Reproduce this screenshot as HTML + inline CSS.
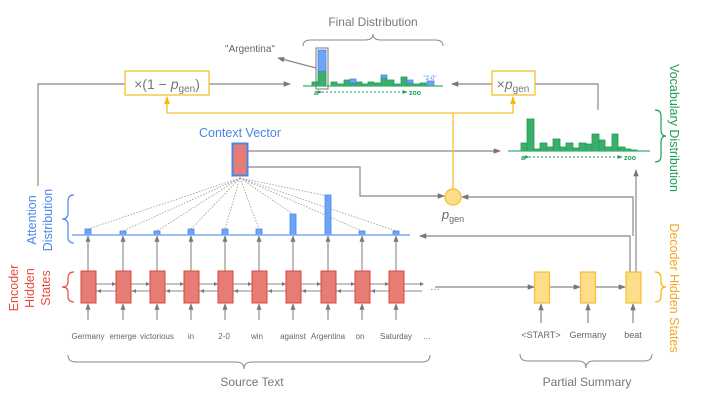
<!DOCTYPE html>
<html><head><meta charset="utf-8"><style>
html,body{margin:0;padding:0;background:#fff}
svg{display:block}
text{font-family:"Liberation Sans",sans-serif}
</style></head><body>
<svg width="705" height="401" viewBox="0 0 705 401" xmlns="http://www.w3.org/2000/svg">
<defs>
<marker id="a" viewBox="0 0 8 8" refX="7" refY="4" markerWidth="6" markerHeight="6" orient="auto"><path d="M0,1 L8,4 L0,7z" fill="#777"/></marker>
<marker id="y" viewBox="0 0 8 8" refX="7" refY="4" markerWidth="6" markerHeight="6" orient="auto"><path d="M0,1 L8,4 L0,7z" fill="#f6b800"/></marker>
<marker id="g" viewBox="0 0 8 8" refX="7" refY="4" markerWidth="5" markerHeight="5" orient="auto"><path d="M0,1 L8,4 L0,7z" fill="#1e9e55"/></marker>
</defs>
<g stroke="#888" stroke-width="1.2" fill="none">
<polyline points="38,186 38,84 125,84"/>
<line x1="209" y1="84" x2="290" y2="84" marker-end="url(#a)"/>
<line x1="492" y1="84" x2="452" y2="84" marker-end="url(#a)"/>
<polyline points="535,84 598,84 598,110"/>
<line x1="248" y1="151" x2="500" y2="151" marker-end="url(#a)"/>
<polyline points="248,167 360,167 360,196 444,196" marker-end="url(#a)"/>
<polyline points="630,272 630,236 420,236" marker-end="url(#a)"/>
<line x1="636" y1="272" x2="636" y2="170" marker-end="url(#a)"/>
<polyline points="633,236 633,197 462,197" marker-end="url(#a)"/>
<line x1="316" y1="68" x2="278" y2="58" marker-end="url(#a)"/>
<line x1="435" y1="287" x2="534" y2="287" marker-end="url(#a)"/>
<line x1="550" y1="287" x2="580" y2="287" marker-end="url(#a)"/>
<line x1="596" y1="287" x2="625" y2="287" marker-end="url(#a)"/>
<line x1="541" y1="323" x2="541" y2="304" marker-end="url(#a)"/>
<line x1="588" y1="323" x2="588" y2="304" marker-end="url(#a)"/>
<line x1="633" y1="323" x2="633" y2="304" marker-end="url(#a)"/>
</g>
<g stroke="#f6c030" stroke-width="1.3" fill="none">
<polyline points="453,189 453,113 167,113 167,97" marker-end="url(#y)"/>
<polyline points="453,113 513,113 513,97" marker-end="url(#y)"/>
</g>
<circle cx="453" cy="197" r="8" fill="#fbdd8a" stroke="#f6c030" stroke-width="1.3"/>
<text x="453" y="219" font-family="Liberation Serif" font-style="italic" font-size="13" fill="#666" text-anchor="middle">p<tspan font-style="normal" font-size="9" dy="3">gen</tspan></text>
<rect x="125" y="71" width="84" height="24" fill="#fff" stroke="#f6c030" stroke-width="1.3"/>
<text x="167" y="89" font-family="Liberation Serif" font-size="14" fill="#777" text-anchor="middle">×(1 − <tspan font-style="italic">p</tspan><tspan font-size="10" dy="3">gen</tspan><tspan dy="-3">)</tspan></text>
<rect x="492" y="71" width="43" height="24" fill="#fff" stroke="#f6c030" stroke-width="1.3"/>
<text x="513" y="89" font-family="Liberation Serif" font-size="14" fill="#777" text-anchor="middle">×<tspan font-style="italic">p</tspan><tspan font-size="10" dy="3">gen</tspan></text>

<text x="373" y="26" font-size="12" fill="#777" text-anchor="middle">Final Distribution</text>
<path d="M303,46 q0,-6 8,-6 h54 q8,0 8,-6 q0,6 8,6 h54 q8,0 8,6" stroke="#888" fill="none"/>
<text x="250" y="52" font-size="10" fill="#666" text-anchor="middle">"Argentina"</text>
<g fill="#3aae6a" stroke="#1e9e55" stroke-width="0.8">
<rect x="312" y="82" width="6" height="4"/><rect x="318" y="71" width="8" height="15"/>
<rect x="331" y="82" width="6" height="4"/><rect x="338" y="84" width="6" height="2"/>
<rect x="344" y="80" width="6" height="6"/><rect x="350" y="83" width="6" height="3"/>
<rect x="356" y="82" width="6" height="4"/><rect x="362" y="84" width="6" height="2"/>
<rect x="368" y="82" width="6" height="4"/><rect x="375" y="83" width="6" height="3"/>
<rect x="381" y="78" width="6" height="8"/><rect x="388" y="80" width="6" height="6"/>
<rect x="394" y="84" width="6" height="2"/><rect x="401" y="77" width="6" height="9"/>
<rect x="407" y="83" width="6" height="3"/><rect x="414" y="84" width="6" height="2"/>
<rect x="420" y="83" width="6" height="3"/>
</g>
<g fill="#6fa3f5" stroke="#4a86e8" stroke-width="0.8">
<rect x="318" y="50" width="8" height="21"/><rect x="350" y="79" width="6" height="4"/>
<rect x="381" y="75" width="6" height="3"/><rect x="407" y="80" width="6" height="3"/>
<rect x="427" y="81" width="7" height="5"/>
</g>
<rect x="316" y="48" width="12" height="41" fill="none" stroke="#777" stroke-width="1"/>
<line x1="303" y1="86" x2="443" y2="86" stroke="#3aae6a" stroke-width="1.3"/>
<text x="430" y="80" font-size="6" fill="#4a86e8" text-anchor="middle">"2-0"</text>
<text x="314" y="95" font-size="7" font-weight="bold" fill="#1e9e55">a</text>
<line x1="322" y1="92" x2="407" y2="92" stroke="#1e9e55" stroke-dasharray="2,2" marker-start="url(#g)" marker-end="url(#g)"/>
<text x="409" y="95" font-size="7" font-weight="bold" fill="#1e9e55">zoo</text>

<g fill="#3aae6a" stroke="#1e9e55" stroke-width="0.8">
<rect x="521" y="143" width="6" height="8"/><rect x="527" y="119" width="7" height="32"/>
<rect x="534" y="149" width="6" height="2"/><rect x="540" y="143" width="7" height="8"/>
<rect x="547" y="147" width="6" height="4"/><rect x="553" y="139" width="7" height="12"/>
<rect x="560" y="147" width="6" height="4"/><rect x="566" y="143" width="7" height="8"/>
<rect x="573" y="148" width="6" height="3"/><rect x="579" y="143" width="7" height="8"/>
<rect x="586" y="144" width="6" height="7"/><rect x="592" y="134" width="7" height="17"/>
<rect x="599" y="140" width="6" height="11"/><rect x="605" y="147" width="7" height="4"/>
<rect x="612" y="134" width="6" height="17"/><rect x="618" y="147" width="7" height="4"/>
<rect x="625" y="149" width="6" height="2"/><rect x="631" y="150" width="6" height="1"/>
</g>
<line x1="508" y1="151" x2="650" y2="151" stroke="#3aae6a" stroke-width="1.3"/>
<text x="521" y="160" font-size="7" font-weight="bold" fill="#1e9e55">a</text>
<line x1="529" y1="157" x2="622" y2="157" stroke="#1e9e55" stroke-dasharray="2,2" marker-start="url(#g)" marker-end="url(#g)"/>
<text x="624" y="160" font-size="7" font-weight="bold" fill="#1e9e55">zoo</text>
<path d="M655,110 q6,0 6,6 v14 q0,6 5,6 q-5,0 -5,6 v14 q0,6 -6,6" stroke="#1e9e55" fill="none" stroke-width="1.2"/>
<text transform="translate(670,128) rotate(90)" font-size="12.5" fill="#1e9e55" text-anchor="middle">Vocabulary Distribution</text>
<path d="M655,272 q6,0 6,6 v4 q0,5 5,5 q-5,0 -5,5 v4 q0,6 -6,6" stroke="#f6b800" fill="none" stroke-width="1.2"/>
<text transform="translate(670,288) rotate(90)" font-size="12.5" fill="#f6a623" text-anchor="middle">Decoder Hidden States</text>

<text x="240" y="137" font-size="12.5" fill="#4a86e8" text-anchor="middle">Context Vector</text>
<rect x="232.5" y="143.5" width="15" height="32" fill="#e67c73" stroke="#4a86e8" stroke-width="2"/>

<g stroke="#999" stroke-width="0.8" stroke-dasharray="1.5,1.5" fill="none">
<line x1="240" y1="178" x2="88" y2="229"/><line x1="240" y1="178" x2="123" y2="231"/>
<line x1="240" y1="178" x2="157" y2="231"/><line x1="240" y1="178" x2="191" y2="229"/>
<line x1="240" y1="178" x2="225" y2="229"/><line x1="240" y1="178" x2="259" y2="229"/>
<line x1="240" y1="178" x2="293" y2="214"/><line x1="240" y1="178" x2="328" y2="196"/>
<line x1="240" y1="178" x2="362" y2="231"/><line x1="240" y1="178" x2="396" y2="231"/>
</g>

<g fill="#6fa3f5" stroke="#4a86e8" stroke-width="0.8">
<rect x="85" y="229" width="6" height="6"/><rect x="120" y="231" width="6" height="4"/>
<rect x="154" y="231" width="6" height="4"/><rect x="188" y="229" width="6" height="6"/>
<rect x="222" y="229" width="6" height="6"/><rect x="256" y="229" width="6" height="6"/>
<rect x="290" y="214" width="6" height="21"/><rect x="325" y="195" width="6" height="40"/>
<rect x="359" y="231" width="6" height="4"/><rect x="393" y="231" width="6" height="4"/>
</g>
<line x1="72" y1="235" x2="410" y2="235" stroke="#7baaf7" stroke-width="1.5"/>
<path d="M74,195 q-6,0 -6,6 v12 q0,6 -6,6 q6,0 6,6 v12 q0,6 6,6" stroke="#4a86e8" fill="none" stroke-width="1.2"/>
<text transform="translate(36,220) rotate(-90)" font-size="12.5" fill="#4a86e8" text-anchor="middle">Attention</text>
<text transform="translate(52,220) rotate(-90)" font-size="12.5" fill="#4a86e8" text-anchor="middle">Distribution</text>
<path d="M74,272 q-6,0 -6,6 v4 q0,5 -6,5 q6,0 6,5 v4 q0,6 6,6" stroke="#e84b3c" fill="none" stroke-width="1.2"/>
<text transform="translate(18,288) rotate(-90)" font-size="12.5" fill="#e84b3c" text-anchor="middle">Encoder</text>
<text transform="translate(34,288) rotate(-90)" font-size="12.5" fill="#e84b3c" text-anchor="middle">Hidden</text>
<text transform="translate(50,288) rotate(-90)" font-size="12.5" fill="#e84b3c" text-anchor="middle">States</text>

<g stroke="#888" stroke-width="1.1" fill="none">
<line x1="88" y1="271" x2="88" y2="236" marker-end="url(#a)"/><line x1="123" y1="271" x2="123" y2="236" marker-end="url(#a)"/>
<line x1="157" y1="271" x2="157" y2="236" marker-end="url(#a)"/><line x1="191" y1="271" x2="191" y2="236" marker-end="url(#a)"/>
<line x1="225" y1="271" x2="225" y2="236" marker-end="url(#a)"/><line x1="259" y1="271" x2="259" y2="236" marker-end="url(#a)"/>
<line x1="293" y1="271" x2="293" y2="236" marker-end="url(#a)"/><line x1="328" y1="271" x2="328" y2="236" marker-end="url(#a)"/>
<line x1="362" y1="271" x2="362" y2="236" marker-end="url(#a)"/><line x1="396" y1="271" x2="396" y2="236" marker-end="url(#a)"/>
<line x1="88" y1="320" x2="88" y2="304" marker-end="url(#a)"/><line x1="123" y1="320" x2="123" y2="304" marker-end="url(#a)"/>
<line x1="157" y1="320" x2="157" y2="304" marker-end="url(#a)"/><line x1="191" y1="320" x2="191" y2="304" marker-end="url(#a)"/>
<line x1="225" y1="320" x2="225" y2="304" marker-end="url(#a)"/><line x1="259" y1="320" x2="259" y2="304" marker-end="url(#a)"/>
<line x1="293" y1="320" x2="293" y2="304" marker-end="url(#a)"/><line x1="328" y1="320" x2="328" y2="304" marker-end="url(#a)"/>
<line x1="362" y1="320" x2="362" y2="304" marker-end="url(#a)"/><line x1="396" y1="320" x2="396" y2="304" marker-end="url(#a)"/>
<line x1="96" y1="284" x2="422" y2="284"/>
<line x1="96" y1="291" x2="422" y2="291"/>
</g>
<g fill="#e67c73" stroke="#d9473a" stroke-width="1">
<rect x="81" y="271" width="15" height="32"/><rect x="116" y="271" width="15" height="32"/>
<rect x="150" y="271" width="15" height="32"/><rect x="184" y="271" width="15" height="32"/>
<rect x="218" y="271" width="15" height="32"/><rect x="252" y="271" width="15" height="32"/>
<rect x="286" y="271" width="15" height="32"/><rect x="321" y="271" width="15" height="32"/>
<rect x="355" y="271" width="15" height="32"/><rect x="389" y="271" width="15" height="32"/>
</g>
<g fill="#777"><path d="M112,282 l4,2 l-4,2z M146,282 l4,2 l-4,2z M180,282 l4,2 l-4,2z M214,282 l4,2 l-4,2z M248,282 l4,2 l-4,2z M282,282 l4,2 l-4,2z M317,282 l4,2 l-4,2z M351,282 l4,2 l-4,2z M385,282 l4,2 l-4,2z M420,282 l4,2 l-4,2z"/>
<path d="M97,291 l4,-2 v4z M132,291 l4,-2 v4z M166,291 l4,-2 v4z M200,291 l4,-2 v4z M234,291 l4,-2 v4z M268,291 l4,-2 v4z M302,291 l4,-2 v4z M337,291 l4,-2 v4z M371,291 l4,-2 v4z"/></g>
<text x="430" y="290" font-size="10" fill="#777">…</text>

<g fill="#fbdd8a" stroke="#f6c030" stroke-width="1.2">
<rect x="534.5" y="272" width="15" height="31"/><rect x="580.5" y="272" width="15" height="31"/><rect x="626" y="272" width="15" height="31"/>
</g>

<g font-size="8" fill="#666" text-anchor="middle">
<text x="88" y="339">Germany</text>
<text x="123" y="339">emerge</text><text x="157" y="339">victorious</text>
<text x="191" y="339">in</text><text x="224" y="339">2-0</text><text x="257" y="339">win</text>
<text x="293" y="339">against</text><text x="328" y="339">Argentina</text><text x="360" y="339">on</text>
<text x="396" y="339">Saturday</text><text x="427" y="339">…</text>
</g>
<g font-size="9" fill="#666" text-anchor="middle">
<text x="541" y="338">&lt;START&gt;</text><text x="588" y="338">Germany</text><text x="633" y="338">beat</text>
</g>
<path d="M68,355 q0,7 8,7 h160 q8,0 8,7 q0,-7 8,-7 h170 q8,0 8,-7" stroke="#888" fill="none"/>
<text x="252" y="386" font-size="12" fill="#777" text-anchor="middle">Source Text</text>
<path d="M520,354 q0,7 8,7 h50 q8,0 8,7 q0,-7 8,-7 h50 q8,0 8,-7" stroke="#888" fill="none"/>
<text x="587" y="386" font-size="12" fill="#777" text-anchor="middle">Partial Summary</text>
</svg>
</body></html>
